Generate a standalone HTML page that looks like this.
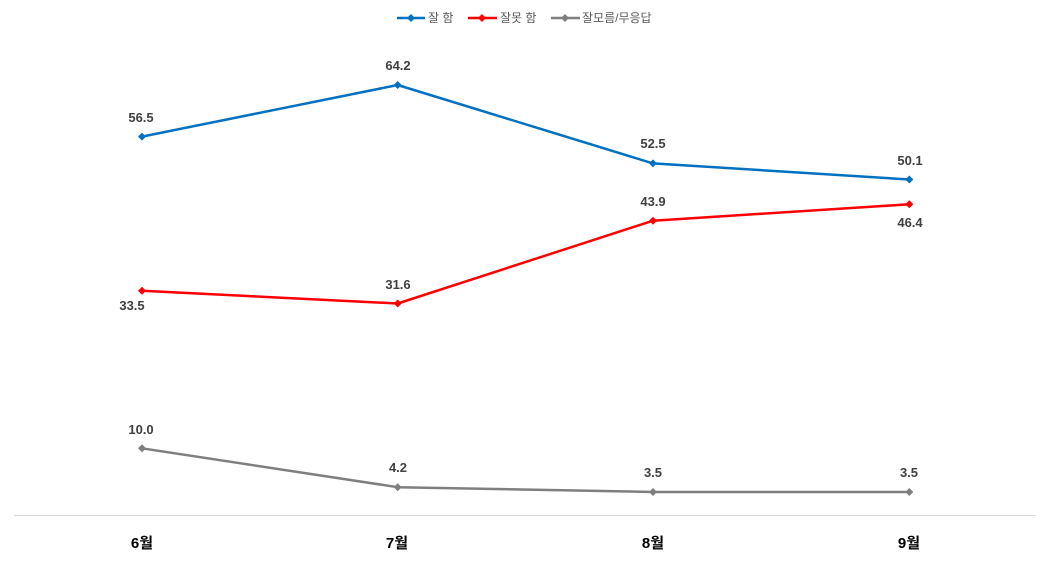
<!DOCTYPE html>
<html><head><meta charset="utf-8"><style>
html,body{margin:0;padding:0;background:#fff;}
svg{display:block;}
.lbl{font-family:"Liberation Sans","Noto Sans CJK KR",sans-serif;font-size:13px;font-weight:bold;fill:#404040;text-anchor:middle;}
.cat{font-family:"Liberation Sans","Noto Sans CJK KR",sans-serif;font-size:15px;font-weight:bold;fill:#000;text-anchor:middle;}
.leg{font-family:"Liberation Sans","Noto Sans CJK KR",sans-serif;font-size:12px;fill:#595959;}
</style></head><body>
<svg width="1052" height="562" viewBox="0 0 1052 562" xmlns="http://www.w3.org/2000/svg">
<defs>
<path id="dm" d="M0,-4 L4,0 L0,4 L-4,0 Z"/>
</defs>
<!-- legend -->
<line x1="397" y1="18" x2="425" y2="18" stroke="#0070C0" stroke-width="2.5"/>
<use href="#dm" x="411" y="18" fill="#0070C0" transform=""/>
<text class="leg" x="428" y="22">잘 함</text>
<line x1="468" y1="18" x2="497" y2="18" stroke="#FF0000" stroke-width="2.5"/>
<use href="#dm" x="482" y="18" fill="#FF0000"/>
<text class="leg" x="500" y="22">잘못 함</text>
<line x1="551" y1="18" x2="580" y2="18" stroke="#7F7F7F" stroke-width="2.5"/>
<use href="#dm" x="565" y="18" fill="#7F7F7F"/>
<text class="leg" x="582" y="22">잘모름/무응답</text>

<!-- axis -->
<line x1="14" y1="515.5" x2="1036" y2="515.5" stroke="#D9D9D9" stroke-width="1"/>

<!-- blue -->
<polyline points="142,136.6 397.7,85 653,163.4 909.3,179.5" fill="none" stroke="#0070C0" stroke-width="2.5" stroke-linejoin="round"/>
<use href="#dm" x="142" y="136.6" fill="#0070C0"/>
<use href="#dm" x="397.7" y="85" fill="#0070C0"/>
<use href="#dm" x="653" y="163.4" fill="#0070C0"/>
<use href="#dm" x="909.3" y="179.5" fill="#0070C0"/>
<!-- red -->
<polyline points="142,290.8 397.7,303.5 653,220.7 909.3,204.3" fill="none" stroke="#FF0000" stroke-width="2.5" stroke-linejoin="round"/>
<use href="#dm" x="142" y="290.8" fill="#FF0000"/>
<use href="#dm" x="397.7" y="303.5" fill="#FF0000"/>
<use href="#dm" x="653" y="220.7" fill="#FF0000"/>
<use href="#dm" x="909.3" y="204.3" fill="#FF0000"/>
<!-- gray -->
<polyline points="142,448.3 397.7,487.2 653,492 909.3,492" fill="none" stroke="#7F7F7F" stroke-width="2.5" stroke-linejoin="round"/>
<use href="#dm" x="142" y="448.3" fill="#7F7F7F"/>
<use href="#dm" x="397.7" y="487.2" fill="#7F7F7F"/>
<use href="#dm" x="653" y="492" fill="#7F7F7F"/>
<use href="#dm" x="909.3" y="492" fill="#7F7F7F"/>

<!-- data labels -->
<text class="lbl" x="141" y="122">56.5</text>
<text class="lbl" x="398" y="70">64.2</text>
<text class="lbl" x="653" y="148">52.5</text>
<text class="lbl" x="910" y="165">50.1</text>

<text class="lbl" x="132" y="310">33.5</text>
<text class="lbl" x="398" y="289">31.6</text>
<text class="lbl" x="653" y="206">43.9</text>
<text class="lbl" x="910" y="227">46.4</text>

<text class="lbl" x="141" y="434">10.0</text>
<text class="lbl" x="398" y="472">4.2</text>
<text class="lbl" x="653" y="477">3.5</text>
<text class="lbl" x="909" y="477">3.5</text>

<!-- categories -->
<text class="cat" x="142" y="548">6월</text>
<text class="cat" x="397" y="548">7월</text>
<text class="cat" x="653" y="548">8월</text>
<text class="cat" x="909" y="548">9월</text>
</svg>
</body></html>
